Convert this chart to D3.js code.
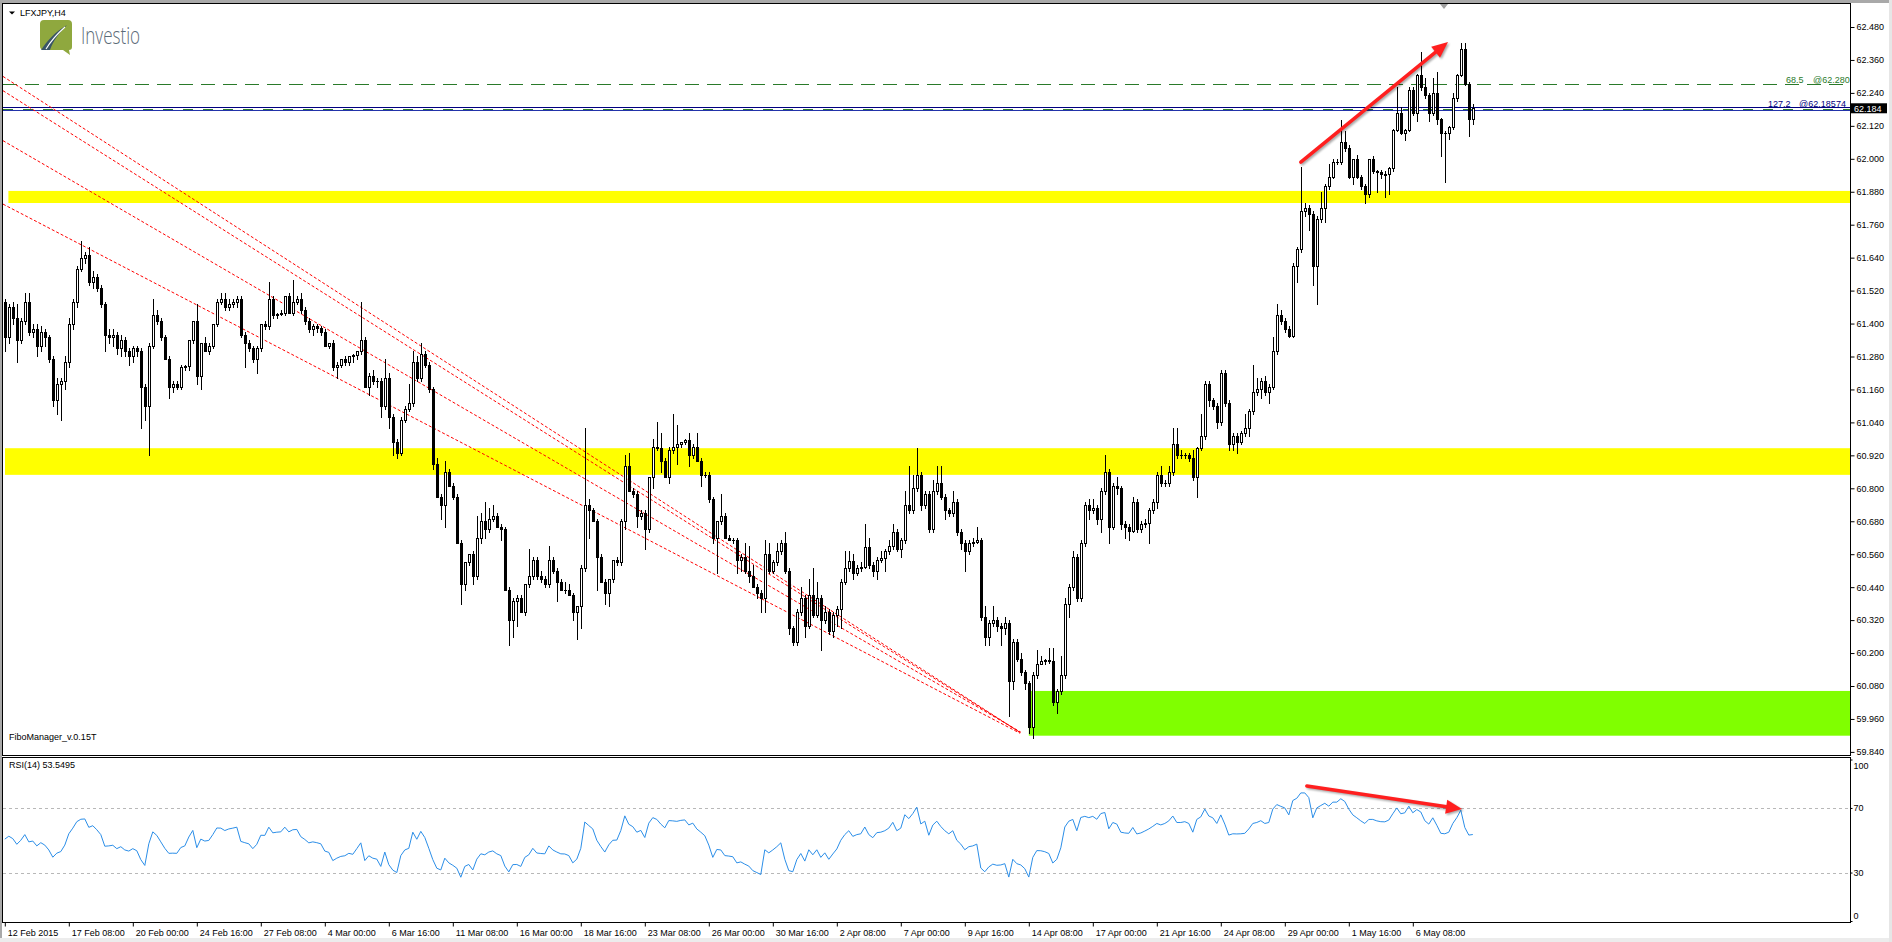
<!DOCTYPE html>
<html><head><meta charset="utf-8">
<script src="https://cdn.jsdelivr.net/npm/d3@7"></script>
<style>
html,body{margin:0;padding:0;background:#fff;overflow:hidden}
text{font-family:"Liberation Sans",Arial,sans-serif;font-size:9px}
</style></head>
<body><svg id="c" width="1892" height="942"></svg>
<script>
// ---------------- DATA ----------------
const symbolTitle = "LFXJPY,H4";
const indicatorName = "FiboManager_v.0.15T";
const rsiTitle = "RSI(14) 53.5495";
const dateLabels = ["12 Feb 2015","17 Feb 08:00","20 Feb 00:00","24 Feb 16:00","27 Feb 08:00","4 Mar 00:00","6 Mar 16:00","11 Mar 08:00","16 Mar 00:00","18 Mar 16:00","23 Mar 08:00","26 Mar 00:00","30 Mar 16:00","2 Apr 08:00","7 Apr 00:00","9 Apr 16:00","14 Apr 08:00","17 Apr 00:00","21 Apr 16:00","24 Apr 08:00","29 Apr 00:00","1 May 16:00","6 May 08:00"];
const dateLabelBars = [0,16,32,48,64,80,96,112,128,144,160,176,192,208,224,240,256,272,288,304,320,336,352];
const priceTicks = [59.84,59.96,60.08,60.20,60.32,60.44,60.56,60.68,60.80,60.92,61.04,61.16,61.28,61.40,61.52,61.64,61.76,61.88,62.00,62.12,62.24,62.36,62.48];
const rsiTicks = [100,70,30,0];
const rsiLevels = [70,30];

const open = [
61.48,61.35,61.46,61.42,61.34,61.41,61.48,61.37,61.38,61.32,
61.37,61.35,61.27,61.12,61.18,61.19,61.26,61.40,61.48,61.60,
61.64,61.65,61.55,61.57,61.53,61.47,61.36,61.35,61.36,61.31,
61.34,61.30,61.28,61.31,61.30,61.17,61.10,61.32,61.43,61.41,
61.35,61.27,61.17,61.18,61.17,61.24,61.245,61.34,61.41,61.21,
61.33,61.30,61.32,61.40,61.48,61.49,61.46,61.47,61.48,61.49,
61.36,61.33,61.31,61.27,61.31,61.40,61.39,61.49,61.43,61.435,
61.44,61.50,61.44,61.48,61.49,61.45,61.41,61.38,61.39,61.385,
61.37,61.32,61.33,61.24,61.25,61.27,61.26,61.28,61.285,61.30,
61.34,61.17,61.21,61.19,61.19,61.10,61.20,61.06,60.97,60.93,
61.05,61.09,61.11,61.26,61.20,61.29,61.25,61.16,60.89,60.77,
60.74,60.86,60.81,60.77,60.60,60.45,60.53,60.56,60.48,60.62,
60.68,60.65,60.69,60.70,60.66,60.65,60.43,60.32,60.39,60.40,
60.35,60.45,60.48,60.54,60.48,60.47,60.45,60.54,60.50,60.46,
60.43,60.43,60.41,60.35,60.37,60.51,60.74,60.72,60.68,60.55,
60.46,60.42,60.47,60.54,60.53,60.68,60.88,60.79,60.78,60.70,
60.71,60.65,60.84,60.95,60.945,60.90,60.84,60.94,60.95,60.96,
60.97,60.975,60.92,60.95,60.90,60.85,60.85,60.76,60.62,60.68,
60.70,60.62,60.61,60.61,60.54,60.55,60.50,60.48,60.44,60.42,
60.40,60.56,60.50,60.53,60.57,60.60,60.50,60.29,60.24,60.35,
60.40,60.30,60.41,60.34,60.40,60.32,60.35,60.28,60.34,60.36,
60.46,60.51,60.535,60.49,60.51,60.515,60.585,60.52,60.50,60.54,
60.545,60.57,60.59,60.64,60.58,60.61,60.74,60.72,60.80,60.85,
60.74,60.78,60.65,60.79,60.82,60.77,60.72,60.71,60.75,60.64,
60.60,60.57,60.60,60.605,60.61,60.33,60.26,60.31,60.32,60.30,
60.29,60.31,60.10,60.24,60.18,60.13,60.09,59.93,60.12,60.16,
60.17,60.175,60.17,60.02,60.06,60.12,60.38,60.44,60.55,60.40,
60.60,60.74,60.72,60.73,60.69,60.79,60.86,60.66,60.81,60.80,
60.67,60.66,60.645,60.75,60.65,60.67,60.675,60.72,60.75,60.85,
60.82,60.82,60.86,60.96,60.92,60.92,60.92,60.91,60.84,60.945,
60.99,61.18,61.12,61.10,61.04,61.22,61.11,60.96,60.99,60.97,
61.00,61.02,61.08,61.15,61.16,61.19,61.15,61.17,61.30,61.43,
61.41,61.38,61.355,61.61,61.67,61.81,61.82,61.80,61.61,61.78,
61.82,61.90,61.935,61.99,61.99,62.06,62.04,61.935,61.998,61.935,
61.90,61.87,61.998,61.956,61.952,61.945,61.946,61.967,62.104,62.167,
62.093,62.104,62.252,62.167,62.305,62.262,62.231,62.167,62.241,62.146,
62.093,62.093,62.114,62.220,62.305,62.400,62.273,62.146];
const high = [
61.49,61.47,61.48,61.47,61.42,61.51,61.51,61.40,61.40,61.39,
61.38,61.36,61.28,61.20,61.20,61.28,61.42,61.49,61.61,61.70,
61.66,61.68,61.59,61.58,61.54,61.48,61.38,61.38,61.37,61.36,
61.35,61.31,61.32,61.32,61.31,61.18,61.33,61.49,61.45,61.42,
61.36,61.28,61.19,61.19,61.25,61.25,61.34,61.41,61.47,61.33,
61.35,61.33,61.40,61.49,61.51,61.51,61.49,61.49,61.50,61.50,
61.37,61.34,61.32,61.32,61.40,61.41,61.55,61.50,61.44,61.45,
61.50,61.51,61.56,61.50,61.51,61.46,61.42,61.40,61.40,61.39,
61.38,61.33,61.34,61.26,61.27,61.28,61.28,61.29,61.30,61.48,
61.35,61.22,61.23,61.20,61.20,61.27,61.22,61.07,60.98,61.06,
61.10,61.18,61.30,61.28,61.33,61.30,61.26,61.17,60.91,60.78,
60.90,60.87,60.82,60.78,60.61,60.53,60.56,60.57,60.70,60.71,
60.75,60.73,60.74,60.71,60.67,60.66,60.44,60.40,60.41,60.41,
60.45,60.58,60.55,60.55,60.50,60.48,60.59,60.55,60.51,60.47,
60.46,60.45,60.42,60.37,60.52,61.02,60.76,60.73,60.69,60.56,
60.47,60.47,60.54,60.55,60.69,60.92,60.93,60.80,60.79,60.72,
60.72,60.84,60.98,61.04,61.00,60.91,60.95,61.07,61.03,60.97,
60.98,61.00,60.96,61.00,60.91,60.86,60.86,60.77,60.68,60.78,
60.71,60.63,60.62,60.62,60.56,60.60,60.59,60.52,60.45,60.43,
60.61,60.60,60.54,60.60,60.61,60.64,60.51,60.30,60.36,60.44,
60.41,60.47,60.51,60.46,60.41,60.37,60.36,60.35,60.37,60.47,
60.57,60.57,60.56,60.52,60.53,60.67,60.62,60.53,60.55,60.57,
60.58,60.61,60.67,60.65,60.62,60.79,60.88,60.85,60.945,60.86,
60.79,60.79,60.83,60.88,60.88,60.78,60.73,60.79,60.76,60.65,
60.61,60.61,60.62,60.66,60.62,60.37,60.32,60.37,60.33,60.31,
60.33,60.32,60.25,60.25,60.20,60.14,60.10,60.13,60.21,60.19,
60.18,60.22,60.22,60.07,60.19,60.40,60.45,60.57,60.56,60.61,
60.75,60.76,60.76,60.74,60.80,60.92,60.87,60.82,60.84,60.81,
60.68,60.67,60.77,60.76,60.68,60.69,60.73,60.76,60.86,60.88,
60.83,60.88,61.02,61.02,60.94,60.93,60.93,60.94,60.95,61.07,
61.19,61.19,61.13,61.11,61.23,61.23,61.12,61.00,61.00,61.01,
61.07,61.09,61.25,61.20,61.20,61.21,61.18,61.35,61.47,61.45,
61.42,61.39,61.62,61.68,61.97,61.84,61.83,61.81,61.79,61.88,
61.91,61.98,62.00,62.00,62.14,62.10,62.05,62.00,62.015,61.94,
61.91,62.00,62.01,61.96,61.96,61.955,61.97,62.11,62.26,62.19,
62.11,62.26,62.26,62.31,62.39,62.294,62.24,62.294,62.315,62.15,
62.10,62.12,62.241,62.31,62.421,62.421,62.28,62.20];
const low = [
61.30,61.33,61.40,61.26,61.33,61.40,61.36,61.35,61.28,61.30,
61.32,61.26,61.10,61.07,61.05,61.16,61.24,61.38,61.46,61.59,
61.62,61.54,61.53,61.52,61.46,61.30,61.33,61.32,61.29,61.28,
61.28,61.25,61.26,61.28,61.02,61.05,60.92,61.31,61.40,61.34,
61.27,61.13,61.15,61.16,61.16,61.23,61.23,61.33,61.18,61.16,
61.30,61.29,61.31,61.39,61.47,61.45,61.45,61.46,61.46,61.35,
61.24,61.30,61.26,61.22,61.30,61.38,61.38,61.42,61.42,61.43,
61.43,61.44,61.43,61.47,61.44,61.40,61.37,61.36,61.37,61.36,
61.32,61.31,61.23,61.20,61.24,61.25,61.25,61.26,61.27,61.29,
61.17,61.14,61.18,61.17,61.06,61.09,61.02,60.92,60.91,60.92,
61.04,61.08,61.10,61.19,61.19,61.24,61.15,60.87,60.77,60.69,
60.66,60.81,60.76,60.60,60.38,60.43,60.52,60.45,60.47,60.60,
60.62,60.64,60.68,60.66,60.61,60.43,60.23,60.26,60.30,60.35,
60.34,60.44,60.47,60.47,60.46,60.44,60.44,60.49,60.39,60.43,
60.42,60.41,60.32,60.25,60.29,60.50,60.62,60.68,60.43,60.46,
60.38,60.37,60.46,60.52,60.52,60.65,60.79,60.77,60.66,60.69,
60.58,60.64,60.80,60.94,60.86,60.84,60.82,60.93,60.89,60.95,
60.96,60.88,60.91,60.90,60.81,60.84,60.75,60.60,60.49,60.67,
60.62,60.61,60.60,60.49,60.50,60.49,60.46,60.44,60.40,60.35,
60.35,60.49,60.49,60.52,60.56,60.49,60.27,60.23,60.23,60.34,
60.26,60.29,60.33,60.33,60.21,60.31,60.27,60.26,60.30,60.29,
60.45,60.50,60.47,60.485,60.50,60.51,60.51,60.48,60.47,60.53,
60.50,60.56,60.58,60.57,60.55,60.60,60.71,60.71,60.79,60.72,
60.73,60.64,60.64,60.78,60.76,60.69,60.70,60.70,60.63,60.58,
60.50,60.56,60.59,60.60,60.32,60.23,60.23,60.30,60.28,60.23,
60.27,59.97,60.07,60.17,60.12,60.07,59.91,59.89,60.11,60.16,
60.16,60.165,60.01,59.98,60.05,60.11,60.33,60.43,60.39,60.39,
60.59,60.69,60.71,60.67,60.64,60.78,60.60,60.65,60.78,60.65,
60.62,60.61,60.64,60.64,60.64,60.66,60.60,60.71,60.73,60.81,
60.81,60.81,60.85,60.91,60.91,60.91,60.90,60.83,60.77,60.94,
60.98,61.10,61.09,61.02,61.03,61.10,60.94,60.94,60.93,60.96,
60.99,60.99,61.07,61.14,61.13,61.14,61.11,61.16,61.29,61.40,
61.37,61.35,61.35,61.55,61.66,61.79,61.74,61.54,61.47,61.77,
61.77,61.89,61.93,61.98,61.98,62.03,61.93,61.91,61.93,61.89,
61.84,61.86,61.95,61.88,61.93,61.86,61.87,61.956,62.10,62.09,
62.07,62.10,62.16,62.136,62.25,62.22,62.136,62.16,62.125,62.009,
61.914,62.072,62.11,62.21,62.30,62.27,62.083,62.125];
const close = [
61.35,61.46,61.42,61.34,61.41,61.48,61.37,61.38,61.32,61.37,
61.35,61.27,61.12,61.18,61.19,61.26,61.40,61.48,61.60,61.64,
61.65,61.55,61.57,61.53,61.47,61.36,61.35,61.36,61.31,61.34,
61.30,61.28,61.31,61.30,61.17,61.10,61.32,61.43,61.41,61.35,
61.27,61.17,61.18,61.17,61.24,61.245,61.34,61.41,61.21,61.33,
61.30,61.32,61.40,61.48,61.49,61.46,61.47,61.48,61.49,61.36,
61.33,61.31,61.27,61.31,61.40,61.39,61.49,61.43,61.435,61.44,
61.50,61.44,61.48,61.49,61.45,61.41,61.38,61.39,61.385,61.37,
61.32,61.33,61.24,61.25,61.27,61.26,61.28,61.285,61.30,61.34,
61.17,61.21,61.19,61.19,61.10,61.20,61.06,60.97,60.93,61.05,
61.09,61.11,61.26,61.20,61.29,61.25,61.16,60.89,60.77,60.74,
60.86,60.81,60.77,60.60,60.45,60.53,60.56,60.48,60.62,60.68,
60.65,60.69,60.70,60.66,60.65,60.43,60.32,60.39,60.40,60.35,
60.45,60.48,60.54,60.48,60.47,60.45,60.54,60.50,60.46,60.43,
60.43,60.41,60.35,60.37,60.51,60.74,60.72,60.68,60.55,60.46,
60.42,60.47,60.54,60.53,60.68,60.88,60.79,60.78,60.70,60.71,
60.65,60.84,60.95,60.945,60.90,60.84,60.94,60.95,60.96,60.97,
60.975,60.92,60.95,60.90,60.85,60.85,60.76,60.62,60.68,60.70,
60.62,60.61,60.61,60.54,60.55,60.50,60.48,60.44,60.42,60.40,
60.56,60.50,60.53,60.57,60.60,60.50,60.29,60.24,60.35,60.40,
60.30,60.41,60.34,60.40,60.32,60.35,60.28,60.34,60.36,60.46,
60.51,60.535,60.49,60.51,60.515,60.585,60.52,60.50,60.54,60.545,
60.57,60.59,60.64,60.58,60.61,60.74,60.72,60.80,60.85,60.74,
60.78,60.65,60.79,60.82,60.77,60.72,60.71,60.75,60.64,60.60,
60.57,60.60,60.605,60.61,60.33,60.26,60.31,60.32,60.30,60.29,
60.31,60.10,60.24,60.18,60.13,60.09,59.93,60.12,60.16,60.17,
60.175,60.17,60.02,60.06,60.12,60.38,60.44,60.55,60.40,60.60,
60.74,60.72,60.73,60.69,60.79,60.86,60.66,60.81,60.80,60.67,
60.66,60.645,60.75,60.65,60.67,60.675,60.72,60.75,60.85,60.82,
60.82,60.86,60.96,60.92,60.92,60.92,60.91,60.84,60.945,60.99,
61.18,61.12,61.10,61.04,61.22,61.11,60.96,60.99,60.97,61.00,
61.02,61.08,61.15,61.16,61.19,61.15,61.17,61.30,61.43,61.41,
61.38,61.355,61.61,61.67,61.81,61.82,61.80,61.61,61.78,61.82,
61.90,61.935,61.99,61.99,62.06,62.04,61.935,61.998,61.935,61.90,
61.87,61.998,61.956,61.952,61.945,61.946,61.967,62.104,62.167,62.093,
62.104,62.252,62.167,62.305,62.262,62.231,62.167,62.241,62.146,62.093,
62.093,62.114,62.220,62.305,62.400,62.273,62.146,62.184];
const rsi = [
50.7,52.5,51,47.5,50,53.5,49,49.5,46.5,48.5,
47,44,39.5,42,43,47,54,57.5,61.5,63,
63.2,58,59,56.5,53.5,46.3,46.5,46.9,44.8,46,
44,43.3,44.8,43.5,38,34.4,47.8,55.2,53,49,
45,41.9,42,41.9,45.5,46.5,52,56.1,45.4,50.7,
49.5,49.9,53.5,57.6,57.5,56,57,57.5,58.1,49.3,
48.5,47.8,44.8,47.5,53.1,53,58.1,54.6,55,55.2,
58.1,55.2,56.5,56.7,52.2,50.5,48.4,49,48.5,47.8,
43.3,42.5,37.4,38.9,40,40.4,41.9,41.3,44.8,48.4,
37.4,40.4,38.9,38.3,33.8,42.7,34.9,31.5,30.0,40.5,
44,45,55,50.6,55.5,51.7,45,38,32.7,31.6,
38.9,36,34.5,32.7,27.1,33.8,35,31.6,38.3,41.6,
41,42.7,43.4,41.6,40.5,34,30.4,34.9,35,33.8,
39.4,41,45,42.1,41.8,41.6,46.5,44,42.7,41.6,
41.5,40.5,36,38.3,45,61.3,59.1,57,50,46.1,
42.7,47.2,50,50.1,56,65.1,59.9,58.4,55,56.1,
51.7,60.6,64,62.9,60,57.7,62.2,62,61.7,62.3,
62.6,59.5,60.6,57,55,52.8,47,39.4,44.3,44,
40.5,40.2,39.8,36,36.6,35.2,34,31.2,30,28.8,
44.1,42.2,44,46,48.4,38.2,31.2,30.5,38,41.8,
37.1,44.1,41,44.1,39.4,42.2,38.2,41.5,44.6,50,
53.5,55.9,52.4,53.5,54,58.2,53.5,51.6,54.7,55,
55.9,57.5,61.1,55.9,57.5,65.8,63.4,66.5,70.5,60.1,
61.8,53.1,59.4,61.8,58.5,55.9,54,55.9,50,47.6,
44.1,46,46.5,47.6,32.8,30.5,33.5,35.2,34.5,34.7,
35.5,27.2,38.2,35.5,34.7,32.4,27.2,39.4,43.6,43.5,
42.9,41.8,35.9,38.2,45.3,58.2,61.8,62.9,55.9,64.1,
64.8,64,64.8,63,66.5,67.2,57.1,61,60,55,
54.5,54.3,57.9,53.9,54.5,55.7,57,58.6,60.4,59.5,
60.4,62,65,61,61,61.5,60.4,55,62.9,64.5,
69.3,65,63.9,60.4,65.7,60,53.2,54,53.9,54,
54.3,57,60.4,61,62.1,60.4,61,69.3,72.1,71,
70,65.7,74.6,76,79.3,79.3,76.4,63.9,70,71.5,
72.9,71.1,73.6,73.6,75.7,74,69.3,65.7,63.9,62,
60.4,62.9,62.9,62,61.5,61.4,62.5,66.4,70,66.4,
67,71.1,67,69,67.5,62.1,60,63.9,59.3,54.3,
54,55,60.4,64,68.6,57.9,53.2,53.5495];

// zones: [startBar, lowPrice, highPrice]
const yellowZones = [[0.9,61.839,61.883],[0.05,60.849,60.946]];
const greenZones = [[256,59.899,60.062]];
// red dotted channel lines: [bar1, price1, bar2, price2]
const channelLines = [[-0.45,62.300,253.7,59.912],[-0.45,62.248,253.9,59.910],[-0.45,62.066,254.0,59.912],[-0.45,61.835,253.8,59.908]];
// fibo levels: [price, colour, dash]
const fiboLines = [[62.272,"#2a7a2a","14,8"],[62.189,"#000080",null],[62.183,"#2a7a2a","10,10"],[62.177,"#2233aa",null]];
const fiboLabels = [["68.5",1786,62.286,"#2a7a2a"],["@62.280",1813,62.286,"#2a7a2a"],["127.2",1768,62.200,"#000080"],["@62.185",1799,62.200,"#000080"],["74",1836,62.200,"#000080"]];
const lastPrice = 62.184;
// arrows [bar1, value1, bar2, value2]
const priceArrow = [324.0, 61.988, 360.8, 62.425];
const rsiArrow = [325.5, 83.6, 364.3, 69.3];

// ---------------- DRAW ----------------
const W=1892,H=942;
const L=3,R=1850,T=4,B=755,RT=758,RB=922;
const svg=d3.select("#c");
const x=d3.scaleLinear().domain([0,367]).range([4.8,4.8+4*367]);
const y=d3.scaleLinear().domain([59.96,62.48]).range([718.95,27]);
const yr=d3.scaleLinear().domain([0,100]).range([921,759.5]);

svg.append("rect").attr("width",W).attr("height",H).attr("fill","#fff");
svg.append("rect").attr("x",0).attr("y",0).attr("width",W).attr("height",3).attr("fill","#a9a9a9");
svg.append("rect").attr("x",0).attr("y",0).attr("width",2).attr("height",H).attr("fill","#a9a9a9");
svg.append("rect").attr("x",0).attr("y",938).attr("width",W).attr("height",4).attr("fill","#ececec");
svg.append("rect").attr("x",1889).attr("y",0).attr("width",3).attr("height",H).attr("fill","#e6e6e6");

const defs=svg.append("defs");
defs.append("clipPath").attr("id","cm").append("rect").attr("x",L).attr("y",T).attr("width",R-L).attr("height",B-T);
defs.append("clipPath").attr("id","cr").append("rect").attr("x",L).attr("y",RT).attr("width",R-L).attr("height",RB-RT);
const f=defs.append("filter").attr("id","sh").attr("x","-20%").attr("y","-20%").attr("width","140%").attr("height","140%");
f.append("feGaussianBlur").attr("stdDeviation",1.2);

const gm=svg.append("g").attr("clip-path","url(#cm)");
const gr=svg.append("g").attr("clip-path","url(#cr)");

// zones
yellowZones.forEach(z=>gm.append("rect").attr("x",x(z[0])).attr("y",y(z[2])).attr("width",R-x(z[0])).attr("height",y(z[1])-y(z[2])).attr("fill","#ffff00"));
greenZones.forEach(z=>gm.append("rect").attr("x",x(z[0])).attr("y",y(z[2])).attr("width",R-x(z[0])).attr("height",y(z[1])-y(z[2])).attr("fill","#80ff00"));

// fibo lines
fiboLines.forEach(d=>{
  const ln=gm.append("line").attr("x1",L).attr("x2",R).attr("y1",Math.round(y(d[0]))+0.5).attr("y2",Math.round(y(d[0]))+0.5)
    .attr("stroke",d[1]).attr("stroke-width",1);
  if(d[2]) ln.attr("stroke-dasharray",d[2]);
});

// channel lines
channelLines.forEach(d=>gm.append("line").attr("x1",x(d[0])).attr("y1",y(d[1])).attr("x2",x(d[2])).attr("y2",y(d[3]))
  .attr("stroke","#ff0000").attr("stroke-width",1).attr("stroke-dasharray","3,2"));

// candles
const cg=gm.append("g").attr("shape-rendering","crispEdges");
close.forEach((c,i)=>{
  const o=open[i],h=high[i],l=low[i];
  const cx=Math.round(x(i));
  cg.append("line").attr("x1",cx+0.5).attr("x2",cx+0.5).attr("y1",Math.round(y(h))).attr("y2",Math.round(y(l))+1).attr("stroke","#000");
  const yt=Math.round(y(Math.max(o,c))), yb=Math.round(y(Math.min(o,c)));
  if(c>o){
    cg.append("rect").attr("x",cx-0.5).attr("y",yt+0.5).attr("width",2).attr("height",Math.max(yb-yt,1)).attr("fill","#fff").attr("stroke","#000");
  } else if(c<o){
    cg.append("rect").attr("x",cx-1).attr("y",yt).attr("width",3).attr("height",Math.max(yb-yt,1)+1).attr("fill","#000");
  } else {
    cg.append("rect").attr("x",cx-1).attr("y",yt).attr("width",3).attr("height",1).attr("fill","#000");
  }
});

// fibo labels
fiboLabels.forEach(d=>svg.append("text").attr("x",d[1]).attr("y",y(d[2])+3).attr("fill",d[3]).text(d[0]));

// arrows
function arrow(g,x1,y1,x2,y2){
  const dx=x2-x1,dy=y2-y1,len=Math.hypot(dx,dy),ux=dx/len,uy=dy/len,px=-uy,py=ux;
  const hl=16,hw=7;
  const bx=x2-ux*hl,by=y2-uy*hl;
  const draw=(gg,col,off)=>{
    gg.append("line").attr("x1",x1+off).attr("y1",y1+off).attr("x2",bx+ux*2+off).attr("y2",by+uy*2+off).attr("stroke",col).attr("stroke-width",3.5).attr("stroke-linecap","round");
    gg.append("polygon").attr("points",[[x2+off,y2+off],[bx+px*hw+off,by+py*hw+off],[bx-px*hw+off,by-py*hw+off]].map(p=>p.join(",")).join(" ")).attr("fill",col);
  };
  const s=g.append("g").attr("filter","url(#sh)").attr("opacity",0.35);
  draw(s,"#000",1.5);
  draw(g,"#ff1f1f",0);
}
arrow(svg,x(priceArrow[0]),y(priceArrow[1]),x(priceArrow[2]),y(priceArrow[3]));

// RSI
rsiLevels.forEach(v=>gr.append("line").attr("x1",L).attr("x2",R).attr("y1",Math.round(yr(v))+0.5).attr("y2",Math.round(yr(v))+0.5)
  .attr("stroke","#b8b8b8").attr("stroke-dasharray","3,3"));
gr.append("path").datum(rsi).attr("fill","none").attr("stroke","#2b8ee8").attr("stroke-width",1)
  .attr("d",d3.line().x((d,i)=>x(i)).y(d=>yr(d)));
arrow(svg,x(rsiArrow[0]),yr(rsiArrow[1]),x(rsiArrow[2]),yr(rsiArrow[3]));

// borders
svg.append("rect").attr("x",L-0.5).attr("y",T-0.5).attr("width",R-L+1).attr("height",B-T+1).attr("fill","none").attr("stroke","#000");
svg.append("rect").attr("x",L-0.5).attr("y",RT-0.5).attr("width",R-L+1).attr("height",RB-RT+1).attr("fill","none").attr("stroke","#000");

// price axis
const ay=svg.append("g").attr("transform",`translate(${R+0.5},0)`)
  .call(d3.axisRight(y).tickValues(priceTicks).tickFormat(d3.format(".3f")).tickSize(4).tickPadding(2));
ay.select(".domain").remove();
ay.selectAll("text").style("font-size","9px").style("font-family","'Liberation Sans', Arial, sans-serif").attr("fill","#000");
ay.selectAll("line").attr("stroke","#000");

// last price box
const lp=y(lastPrice);
svg.append("rect").attr("x",R+1).attr("y",lp-5).attr("width",36).attr("height",10).attr("fill","#000");
svg.append("text").attr("x",R+4).attr("y",lp+3.5).attr("fill","#fff").text(d3.format(".3f")(lastPrice));

// rsi axis
const ar=svg.append("g").attr("transform",`translate(${R+0.5},0)`)
  .call(d3.axisRight(yr).tickValues(rsiTicks).tickSize(2).tickPadding(1));
ar.select(".domain").remove();
ar.selectAll("text").style("font-size","9px").style("font-family","'Liberation Sans', Arial, sans-serif").attr("fill","#000")
  .attr("dy",d=>d===100?"0.95em":(d===0?"-0.3em":"0.32em"));
ar.selectAll("line").attr("stroke","#000");

// time axis
const ax=svg.append("g").attr("transform",`translate(0,${RB+0.5})`)
  .call(d3.axisBottom(x).tickValues(dateLabelBars).tickFormat((d,i)=>dateLabels[i]).tickSize(4).tickPadding(3));
ax.select(".domain").remove();
ax.selectAll("text").attr("text-anchor","start").attr("x",2.5).style("font-size","9px").style("font-family","'Liberation Sans', Arial, sans-serif").attr("fill","#000");
ax.selectAll("line").attr("stroke","#000");

// title & labels
svg.append("polygon").attr("points","9,11.5 15,11.5 12,14.5").attr("fill","#000");
svg.append("text").attr("x",20).attr("y",15.5).attr("fill","#000").text(symbolTitle);
svg.append("text").attr("x",9).attr("y",739.5).attr("fill","#000").text(indicatorName);
svg.append("text").attr("x",9).attr("y",768).attr("fill","#000").text(rsiTitle);
svg.append("polygon").attr("points","1440,4 1448,4 1444,9").attr("fill","#a0a0a0");

// logo
const lg=svg.append("g");
lg.append("path").attr("d","M44,20 H68 Q72,20 72,24 V47 Q72,50 69,50 L70,55 L63,50 H44 Q40,50 40,46 V24 Q40,20 44,20 Z").attr("fill","#8fa83e");
lg.append("path").attr("d","M41,50 C47,41 55,32 67,25 C59,33 53,41 50,50 Z").attr("fill","#3a5566");
lg.append("path").attr("d","M46,49 C51,41 57,34 65,27").attr("fill","none").attr("stroke","#fff").attr("stroke-width",1.1);
lg.append("text").attr("x",81).attr("y",43.5).style("font-family","'Open Sans', Lato, sans-serif").style("font-weight","300")
  .style("font-size","24px").attr("fill","#5b6b78").attr("textLength",59).attr("lengthAdjust","spacingAndGlyphs").text("Investio");
</script></body></html>
